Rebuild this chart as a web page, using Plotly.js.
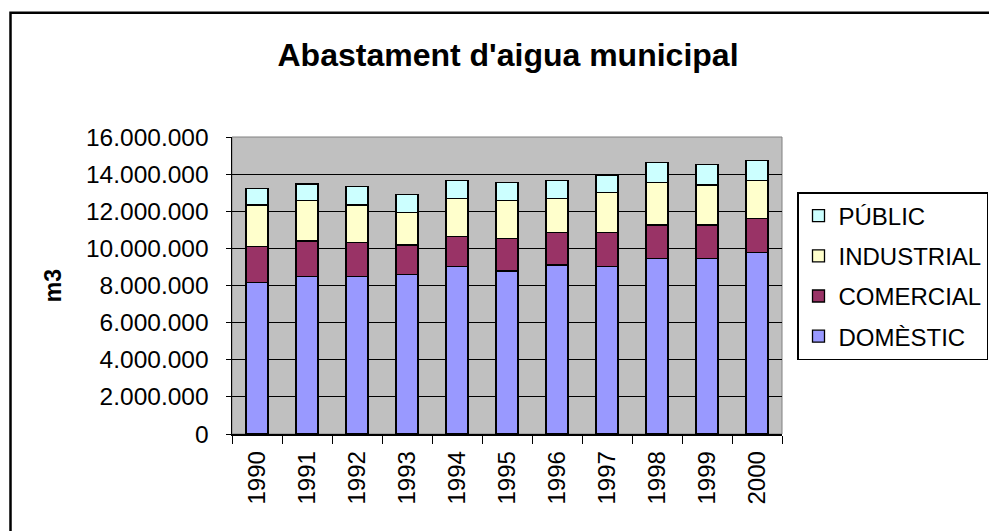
<!DOCTYPE html>
<html>
<head>
<meta charset="utf-8">
<script src="https://cdn.plot.ly/plotly-3.0.1.min.js"></script>
<style>html,body{margin:0;padding:0;background:#fff;} #chart{width:989px;height:531px;}</style>
</head>
<body>
<div id="chart"></div>
<script>
const years = ["1990","1991","1992","1993","1994","1995","1996","1997","1998","1999","2000"];
const domestic   = [8150000, 8480000, 8480000, 8600000, 9030000, 8780000, 9110000, 9020000, 9450000, 9450000, 9770000];
const comercial  = [1940000, 1920000, 1830000, 1580000, 1600000, 1740000, 1740000, 1830000, 1810000, 1810000, 1830000];
const industrial = [2250000, 2170000, 2030000, 1740000, 2050000, 2070000, 1830000, 2170000, 2280000, 2160000, 2050000];
const publicUse  = [880000, 900000, 1010000, 990000, 990000, 970000, 970000, 930000, 1100000, 1110000, 1080000];
const seriesNames = ["DOMÈSTIC", "COMERCIAL", "INDUSTRIAL", "PÚBLIC"];
const seriesColors = ["#9999FF", "#993366", "#FFFFCC", "#CCFFFF"];
const seriesValues = [domestic, comercial, industrial, publicUse];

const traces = seriesValues.map((vals, i) => ({
  type: "bar",
  name: seriesNames[i],
  x: years,
  y: vals,
  legendgroup: "g" + i,
  legendrank: 1000 - i,
  marker: { color: seriesColors[i], line: { color: "#000", width: 1.3 } },
  hoverinfo: "name+y"
}));

const L = 232, R = 207, T = 137, B = 97;
const W = 989 - L - R, H = 531 - T - B;
const px = v => (v - L) / W;
const py = v => (531 - B - v) / H;

const layout = {
  width: 989, height: 531,
  margin: { l: L, r: R, t: T, b: B, pad: 0, autoexpand: false },
  paper_bgcolor: "#fff",
  plot_bgcolor: "#C0C0C0",
  barmode: "stack",
  bargap: 0.56,
  separators: ",.",
  font: { family: "Liberation Sans, Arial, sans-serif", color: "#000" },
  title: {
    text: "<b>Abastament d'aigua municipal</b>",
    font: { size: 32, family: "Liberation Sans, Arial, sans-serif", color: "#000" },
    xref: "paper", x: px(508), xanchor: "center",
    yref: "container", y: 1 - 55 / 531, yanchor: "middle"
  },
  xaxis: {
    type: "category",
    tickson: "boundaries",
    ticks: "outside", ticklen: 8, tickcolor: "#000", tickwidth: 1,
    tickangle: -90,
    tickfont: { size: 24 },
    ticklabelstandoff: 6,
    showline: true, linecolor: "#000", linewidth: 1.5,
    showgrid: false, zeroline: false
  },
  yaxis: {
    range: [0, 16000000],
    dtick: 2000000,
    tickformat: ",d",
    ticks: "outside", ticklen: 5, tickcolor: "#000", tickwidth: 1,
    tickfont: { size: 24.5 },
    ticklabelstandoff: 12,
    showline: true, linecolor: "#000", linewidth: 1.5,
    showgrid: true, gridcolor: "#000", gridwidth: 1,
    zeroline: false,
    title: { text: "<b>m3</b>", font: { size: 23 }, standoff: 18 }
  },
  legend: {
    x: px(797), xanchor: "left",
    y: py(192), yanchor: "top",
    traceorder: "grouped",
    tracegroupgap: 6,
    bgcolor: "#fff",
    bordercolor: "#000", borderwidth: 1.5,
    font: { size: 24 }
  },
  shapes: [
    { type: "rect", xref: "paper", yref: "paper", x0: 0, x1: 1, y0: 0, y1: 1,
      line: { color: "#808080", width: 1 }, layer: "below" },
    { type: "rect", xref: "paper", yref: "paper",
      x0: px(10.5), x1: px(1005), y0: py(540), y1: py(12.8),
      line: { color: "#000", width: 2.5 } }
  ],
  showlegend: true
};

Plotly.newPlot("chart", traces, layout, { displayModeBar: false, staticPlot: true });
</script>
</body>
</html>
